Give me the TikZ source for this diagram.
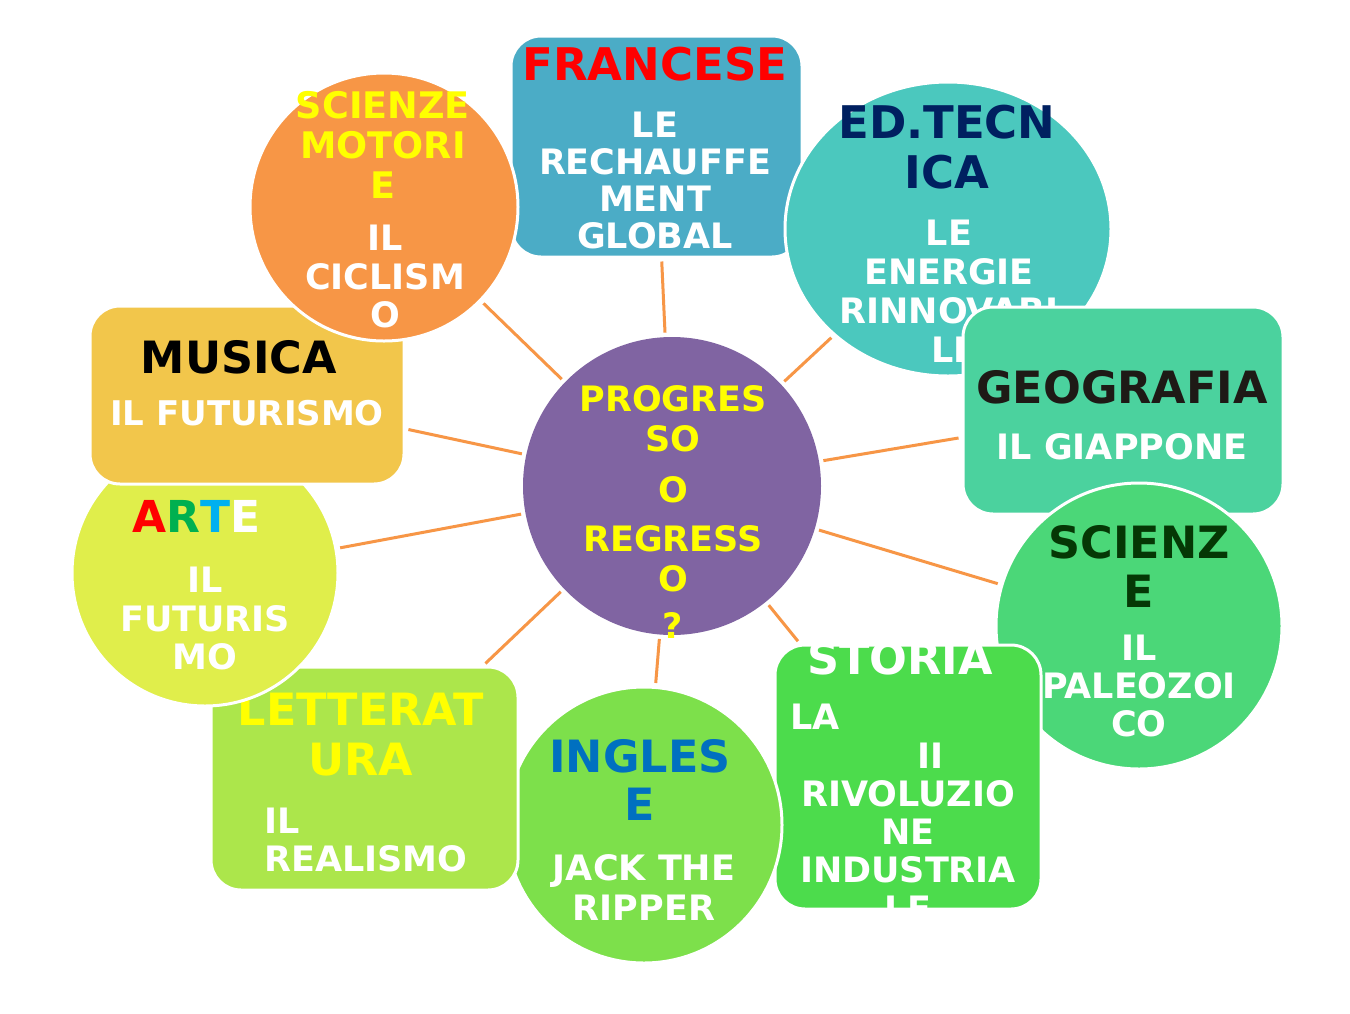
\documentclass[tikz,border=0pt]{standalone}
\usepackage{fontspec}
\setmainfont{DejaVu Sans}
\usetikzlibrary{shapes.geometric}
\pgfdeclarelayer{bg}
\pgfsetlayers{bg,main}
\definecolor{cpurple}{HTML}{8064A2}
\definecolor{corange}{HTML}{F79646}
\definecolor{cfr}{HTML}{4BACC6}
\definecolor{cedt}{HTML}{4BC8BE}
\definecolor{cgeo}{HTML}{4BD29E}
\definecolor{csci}{HTML}{4BD778}
\definecolor{csto}{HTML}{4CDC4C}
\definecolor{cing}{HTML}{7DE04B}
\definecolor{clet}{HTML}{ACE64B}
\definecolor{carte}{HTML}{E0EE4B}
\definecolor{cmus}{HTML}{F2C64B}
\definecolor{tyellow}{HTML}{FFFF00}
\definecolor{tred}{HTML}{FF0000}
\definecolor{tnavy}{HTML}{002060}
\definecolor{tdkgreen}{HTML}{053805}
\definecolor{tblack}{HTML}{1E1A16}
\definecolor{tblue}{HTML}{0070C0}
\definecolor{tgreen}{HTML}{00B050}
\definecolor{tcyan}{HTML}{00B0F0}
\begin{document}
\begin{tikzpicture}[x=1pt,y=-1pt,
  shp/.style={draw=white, line width=3pt, inner sep=0pt},
  boxs/.style={shp, rectangle, rounded corners=30pt},
  circs/.style={shp, circle},
  head/.style={inner sep=0pt, anchor=north, align=center, font=\bfseries\fontsize{44.5}{50}\selectfont},
  body/.style={inner sep=0pt, anchor=north, align=center, text=white, font=\bfseries\fontsize{35}{38.3}\selectfont},
  conn/.style={draw=corange, line width=3pt, shorten <=3pt, shorten >=3pt}]
\begin{pgfonlayer}{bg}
\fill[white] (0,0) rectangle (1350,1013);
\end{pgfonlayer}
\useasboundingbox (0,0) rectangle (1350,1013);

% Francese
\node[boxs, fill=cfr, minimum width=291pt, minimum height=221pt] (fr) at (656.5,146.5) {};
\node[head, text=tred, font=\bfseries\fontsize{45}{50}\selectfont] (frh) at (655,47) {FRANCESE};
\node[body, font=\bfseries\fontsize{35}{37}\selectfont] (frb) at (655,111.5) {LE\\RECHAUFFE\\MENT\\GLOBAL};

% Ed. Tecnica
\node[shp, ellipse, fill=cedt, minimum width=326pt, minimum height=294pt] (edt) at (948,229) {};
\node[head, text=tnavy, font=\bfseries\fontsize{45}{50}\selectfont] (edth) at (947,105) {ED.TECN\\ICA};
\node[body, font=\bfseries\fontsize{35}{38.8}\selectfont] (edtb) at (949,220) {LE\\ENERGIE\\RINNOVABI\\LI};

% Geografia
\node[boxs, fill=cgeo, minimum width=320pt, minimum height=207pt] (geo) at (1123,410.5) {};
\node[head, text=tblack] (geoh) at (1122,370) {GEOGRAFIA};
\node[body] (geob) at (1122,433) {IL GIAPPONE};

% Scienze
\node[circs, fill=csci, minimum size=286pt] (sci) at (1139,626) {};
\node[head, text=tdkgreen, font=\bfseries\fontsize{44.5}{49}\selectfont] (scih) at (1139,525) {SCIENZ\\E};
\node[body, font=\bfseries\fontsize{35}{38}\selectfont] (scib) at (1139,635) {IL\\PALEOZOI\\CO};

% Storia
\node[boxs, fill=csto, minimum width=266pt, minimum height=264pt] (sto) at (908,777) {};
\node[head, text=white] (stoh) at (900,641) {STORIA};
\node[body] (stob) at (908,704) {\makebox[236pt][l]{LA}\\\makebox[72pt][r]{II}\\RIVOLUZIO\\NE\\INDUSTRIA\\LE};

% Inglese
\node[circs, fill=cing, minimum size=276pt] (ing) at (644,825) {};
\node[head, text=tblue, font=\bfseries\fontsize{44.5}{48}\selectfont] (ingh) at (640,739) {INGLES\\E};
\node[body, font=\bfseries\fontsize{35}{40}\selectfont] (ingb) at (644,854) {JACK THE\\RIPPER};

% Letteratura
\node[boxs, fill=clet, minimum width=307pt, minimum height=223pt] (let) at (364.5,778.5) {};
\node[head, text=tyellow] (leth) at (361,693) {LETTERAT\\URA};
\node[body, anchor=north west, align=left, font=\bfseries\fontsize{35}{38}\selectfont] (letb) at (264,808) {IL\\REALISMO};

% Arte
\node[circs, fill=carte, minimum size=266pt] (arte) at (205,573) {};
\node[head, anchor=north west, font=\bfseries\fontsize{44}{50}\selectfont] (arteh) at (132,500) {\textcolor{tred}{A}\textcolor{tgreen}{R}\textcolor{tcyan}{T}\textcolor{white}{E}};
\node[body] (arteb) at (205,567) {IL\\FUTURIS\\MO};

% Musica
\node[boxs, fill=cmus, minimum width=314pt, minimum height=178pt] (mus) at (247,395) {};
\node[head, text=black] (mush) at (239,340) {MUSICA};
\node[body, font=\bfseries\fontsize{34}{38}\selectfont] (musb) at (247,400) {IL FUTURISMO};

% Scienze motorie
\node[circs, fill=corange, minimum size=268pt] (sm) at (384,207) {};
\node[head, text=tyellow, font=\bfseries\fontsize{36.6}{40}\selectfont] (smh) at (383,91) {SCIENZE\\MOTORI\\E};
\node[body] (smb) at (385,225) {IL\\CICLISM\\O};

% Centre
\node[circs, draw=none, fill=cpurple, minimum size=298pt] (c) at (672,486) {};
\node[body, text=tyellow, font=\bfseries\fontsize{35}{40}\selectfont] (ch) at (673,385) {PROGRES\\SO\\[11pt]O\\[9pt]REGRESS\\O\\[7pt]?};

% connectors
\begin{pgfonlayer}{bg}
\draw[conn] (c) -- (sm);
\draw[conn] (c) -- (fr);
\draw[conn] (c) -- (edt);
\draw[conn] (c) -- (geo);
\draw[conn] (c) -- (sci);
\draw[conn] (c) -- (sto);
\draw[conn] (c) -- (ing);
\draw[conn] (c) -- (let);
\draw[conn] (c) -- (arte);
\draw[conn] (c) -- (mus);
\end{pgfonlayer}
\end{tikzpicture}
\end{document}
